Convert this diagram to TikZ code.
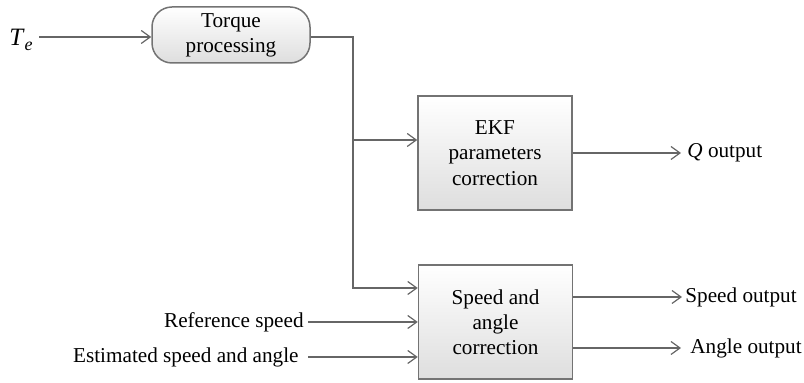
\documentclass[tikz,border=0pt]{standalone}
\usepackage{fontspec}
\setmainfont{Liberation Serif}
\usetikzlibrary{arrows.meta,calc}
\begin{document}
\begin{tikzpicture}[x=0.5pt,y=-0.5pt,
  font=\fontsize{10.6}{12.6}\selectfont,
  line/.style={draw=black!60,line width=0.7pt},
  arr/.style={line,-{Straight Barb[length=4.5pt,width=6.5pt,line width=0.6pt]}},
  blk/.style={draw=black!55,line width=0.75pt,top color=white,bottom color=black!13,
    align=center,inner sep=0pt,minimum width=77pt,minimum height=57pt},
  lbl/.style={inner sep=0pt}]
\useasboundingbox (0,0) rectangle (804,383);
\node[blk,rounded corners=10pt,minimum width=79pt,minimum height=28pt] (torque) at (231,35) {Torque\\processing};
\node[blk] (ekf) at (495,153) {EKF\\parameters\\correction};
\node[blk] (speed) at (495.5,322) {Speed and\\angle\\correction};
\node[lbl,font=\fontsize{12.5}{14}\selectfont] (te) at (21,40) {\textit{T}\raisebox{-0.45ex}{\fontsize{9}{10}\selectfont\textit{e}}};
\node[lbl,anchor=west] (q) at (687,153) {\textit{Q} output};
\node[lbl,anchor=west] (so) at (685,297) {Speed output};
\node[lbl,anchor=west] (ao) at (690,348) {Angle output};
\node[lbl,anchor=east] (ref) at (304,322) {Reference speed};
\node[lbl,anchor=east] (est) at (299,357) {Estimated speed and angle};
\coordinate (tein) at (39,37);
\coordinate (bus) at (353,288);
\coordinate (qend) at (681,153);
\coordinate (soend) at (682,297);
\coordinate (aoend) at (681,348);
\draw[arr] (tein) -- (torque.west |- tein);
\draw[arr] (torque.east |- tein) -| (bus) -- (bus -| speed.west);
\draw[arr] (bus |- ekf.west) ++(0,-13) coordinate (br) -- (br -| ekf.west);
\draw[arr] ([xshift=2pt]ref.east) -- (ref.east -| speed.west);
\draw[arr] ([xshift=4.5pt]est.east) -- (est.east -| speed.west);
\draw[arr] (ekf.east) -- (qend);
\draw[arr] (speed.east |- soend) -- (soend);
\draw[arr] (speed.east |- aoend) -- (aoend);
\end{tikzpicture}
\end{document}
